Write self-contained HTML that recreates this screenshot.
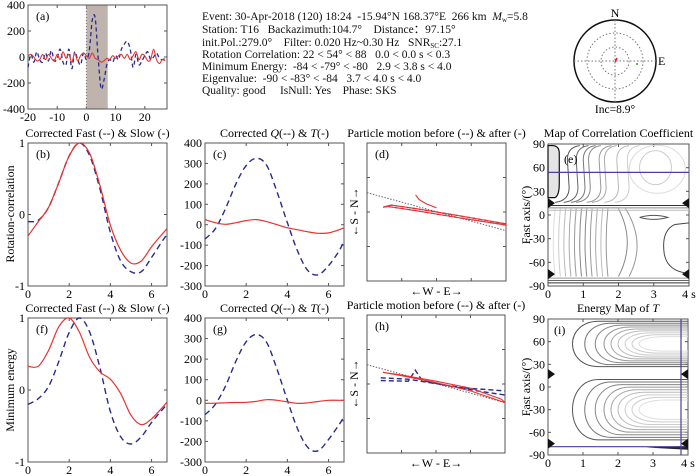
<!DOCTYPE html>
<html><head><meta charset="utf-8">
<style>
html,body{margin:0;padding:0;background:#fff;}
svg{display:block;font-family:"Liberation Serif",serif;}
#header-text text{white-space:pre;}
</style></head>
<body>
<svg id="chart" width="700" height="476" viewBox="0 0 700 476" xmlns="http://www.w3.org/2000/svg">
<g id="header-text" font-size="11.5" fill="#111" xml:space="preserve">
<text x="202" y="20">Event: 30-Apr-2018 (120) 18:24  -15.94°N 168.37°E  266 km  <tspan font-style="italic">M</tspan><tspan font-size="7" dy="2">w</tspan><tspan dy="-2">=5.8</tspan></text>
<text x="202" y="33">Station: T16   Backazimuth:104.7°    Distance：97.15°</text>
<text x="202" y="46">init.Pol.:279.0°    Filter: 0.020 Hz~0.30 Hz   SNR<tspan font-size="7" dy="2">SC</tspan><tspan dy="-2">:27.1</tspan></text>
<text x="202" y="58">Rotation Correlation: 22 &lt; 54° &lt; 88   0.0 &lt; 0.0 s &lt; 0.3</text>
<text x="202" y="70">Minimum Energy:  -84 &lt; -79° &lt; -80   2.9 &lt; 3.8 s &lt; 4.0</text>
<text x="202" y="82">Eigenvalue:  -90 &lt; -83° &lt; -84   3.7 &lt; 4.0 s &lt; 4.0</text>
<text x="202" y="94">Quality: good     IsNull: Yes    Phase: SKS</text>
</g>
<g>
<circle cx="615" cy="61" r="41" fill="none" stroke="#111" stroke-width="1.5"/>
<circle cx="615" cy="61" r="28" fill="none" stroke="#777" stroke-dasharray="1.5,2"/>
<circle cx="615" cy="61" r="14" fill="none" stroke="#777" stroke-dasharray="1.5,2"/>
<line x1="574" y1="61" x2="656" y2="61" stroke="#777" stroke-dasharray="1.5,2"/>
<line x1="615" y1="20" x2="615" y2="102" stroke="#777" stroke-dasharray="1.5,2"/>
<line x1="615" y1="62" x2="617" y2="58" stroke="#d22" stroke-width="1.5"/>
<circle cx="637" cy="64" r="1" fill="#393"/>
<text x="615" y="17" font-size="12" text-anchor="middle">N</text>
<text x="658" y="65" font-size="12">E</text>
<text x="615" y="113" font-size="11.5" text-anchor="middle">Inc=8.9°</text>
</g>
<g id="plots"></g>
</svg>
<script>
// ---------- data ----------
const aTime = [-20,-19,-18,-17,-16,-15,-14,-13,-12,-11,-10,-9,-8,-7,-6,-5,-4,-3,-2,-1,0,1,2,3,4,5,6,7,8,9,10,11,12,13,14,15,16,17,18,19,20,21,22,23,24,25,26,27];
const aFast = [-80,20,-40,40,-20,-40,30,-30,50,-30,-10,60,-40,-60,60,-90,40,-20,-60,30,-20,50,280,300,0,-240,-180,-60,-20,-40,10,-20,60,100,120,60,-80,20,-60,-30,10,40,-20,0,30,-10,-20,-10];
const aSlow = [10,20,0,-30,-20,20,-20,20,-10,-30,20,-20,40,-10,20,-40,30,-30,10,30,10,-10,30,-10,-20,-40,-30,-10,-20,10,-10,10,20,-10,20,-20,10,40,-20,20,10,-30,-20,60,-20,-50,-20,-30];
const aWindow = [0, 7.3];
const tCorr = [0,0.5,1,1.5,2,2.5,3,3.5,4,4.5,5,5.5,6,6.5,6.75];
const bFast = [-0.1,-0.08,0.1,0.45,0.82,1.0,0.82,0.35,-0.25,-0.65,-0.8,-0.8,-0.6,-0.38,-0.28];
const bSlow = [-0.3,-0.1,0.1,0.45,0.82,1.0,0.85,0.4,-0.15,-0.5,-0.68,-0.65,-0.45,-0.28,-0.2];
const cQ = [-70,-20,80,200,290,325,290,160,10,-130,-225,-245,-200,-130,-80];
const cT = [25,10,2,10,20,25,15,0,-15,-25,-35,-42,-40,-25,-15];
const fFast = [-0.2,-0.12,0.05,0.4,0.8,1.0,0.8,0.3,-0.3,-0.65,-0.75,-0.65,-0.45,-0.28,-0.2];
const fSlow = [0.33,0.33,0.55,0.88,1.0,0.8,0.45,0.25,0.15,-0.05,-0.35,-0.48,-0.4,-0.25,-0.17];
const gQ = [-70,-20,70,190,285,320,280,150,0,-140,-230,-245,-190,-120,-80];
const gT = [-15,-14,-12,-11,-10,-5,3,0,-8,-15,-12,-6,0,0,0];
const dAfterX = [-0.77,-0.7,-0.3,0.3,1,0.99,0.3,-0.3,-0.65,-0.77];
const dAfterY = [0.07,0.08,0.02,-0.08,-0.19,-0.17,-0.05,0.05,0.1,0.07];
const dHookX = [-0.3,-0.25,-0.15,0];
const dHookY = [0.25,0.18,0.12,0.06];
const hAfterX = [-0.77,-0.5,0,0.5,1,0.95,0.5,0,-0.5,-0.77];
const hAfterY = [0.17,0.12,0.02,-0.1,-0.27,-0.22,-0.06,0.04,0.13,0.17];
const hBeforeX = [-0.8,-0.4,-0.1,0.3,0.6,1];
const hBeforeY = [0.09,0.07,0.02,-0.04,-0.1,-0.16];
const hBefore2X = [-0.8,-0.4,-0.3,-0.2,0.3,1];
const hBefore2Y = [0.05,0.04,0.2,0.05,-0.05,-0.1];
const eBest = [54, 0.0];
const iBest = [-79, 3.8];
const eTri = [15,-75];
const iTri = [17,-75];

// ---------- helpers ----------
const NS='http://www.w3.org/2000/svg';
const root=document.getElementById('plots');
function mk(tag, attrs, parent){const e=document.createElementNS(NS,tag);for(const k in attrs)e.setAttribute(k,attrs[k]);(parent||root).appendChild(e);return e;}
function lin(d0,d1,p0,p1){return v=>p0+(v-d0)*(p1-p0)/(d1-d0);}
function pathD(xs,ys,sx,sy){return xs.map((x,i)=>(i?'L':'M')+sx(x).toFixed(1)+','+sy(ys[i]).toFixed(1)).join('');}
function smoothD(xs,ys,sx,sy){const P=xs.map((x,i)=>[sx(x),sy(ys[i])]);let d='M'+P[0][0]+','+P[0][1];for(let i=0;i<P.length-1;i++){const p0=P[i-1]||P[i],p1=P[i],p2=P[i+1],p3=P[i+2]||p2;d+='C'+(p1[0]+(p2[0]-p0[0])/6).toFixed(1)+','+(p1[1]+(p2[1]-p0[1])/6).toFixed(1)+' '+(p2[0]-(p3[0]-p1[0])/6).toFixed(1)+','+(p2[1]-(p3[1]-p1[1])/6).toFixed(1)+' '+p2[0].toFixed(1)+','+p2[1].toFixed(1);}return d;}
function frame(name,L,R,T,B,xt,yt,sx,sy,xlab,ylab){
  const g=mk('g',{});
  
  
  mk('rect',{x:L,y:T,width:R-L,height:B-T,fill:'none',stroke:'#555','stroke-width':1},g);
  xt.forEach((v,i)=>{const x=sx(v);mk('line',{x1:x,y1:B,x2:x,y2:B-3,stroke:'#555'},g);mk('line',{x1:x,y1:T,x2:x,y2:T+3,stroke:'#555'},g);
    if(xlab){const t=mk('text',{x:x,y:B+12,'font-size':12,'text-anchor':'middle'},g);t.textContent=xlab[i];}});
  yt.forEach((v,i)=>{const y=sy(v);mk('line',{x1:L,y1:y,x2:L+3,y2:y,stroke:'#555'},g);mk('line',{x1:R,y1:y,x2:R-3,y2:y,stroke:'#555'},g);
    if(ylab){const t=mk('text',{x:L-3,y:y+4,'font-size':12,'text-anchor':'end'},g);t.textContent=ylab[i];}});
  return g;
}
function txt(s,x,y,opts,name){const t=mk('text',Object.assign({x:x,y:y,'font-size':12},opts||{}));t.innerHTML=s;return t;}
function series(d,color,dash,w,name,g){const p=mk('path',{d:d,fill:'none',stroke:color,'stroke-width':w||1.2},g);if(dash)p.setAttribute('stroke-dasharray',dash);return p;}
const RED='#e8322e', BLUE='#2a2a8c';

// ---------- panel a ----------
(function(){
 const sx=lin(-20,27.6,28,167), sy=lin(-400,400,109,5);
 const g=frame('panel-a',28,167,5,109,[-20,-10,0,10,20],[-400,-200,0,200,400],sx,sy,['-20','-10','0','10','20'],['-400','-200','0','200','400']);
 const r=mk('rect',{x:sx(aWindow[0]),y:5.5,width:sx(aWindow[1])-sx(aWindow[0]),height:103,fill:'#bfb3ad'},g);
 
 
 mk('line',{x1:sx(0),y1:5,x2:sx(0),y2:109,stroke:'#777','stroke-dasharray':'1,2'},g);
 series(smoothD(aTime,aFast,sx,sy),BLUE,'4,3',1.3,'fast-trace-a',g);
 series(smoothD(aTime,aSlow,sx,sy),RED,null,1.1,'slow-trace-a',g);
 txt('(a)',36,20,{},'panel-label-a');
})();

// ---------- waveform panels ----------
function wave(name,L,R,T,B,ymin,ymax,yt,yl,xs,dashed,solid,title,label){
 const sx=lin(0,6.75,L,R), sy=lin(ymin,ymax,B,T);
 const g=frame(name,L,R,T,B,[0,2,4,6],yt,sx,sy,['0','2','4','6'],yl);
 series(smoothD(xs,dashed,sx,sy),BLUE,'6,4',1.4,name+'-dashed',g);
 series(smoothD(xs,solid,sx,sy),RED,null,1.2,name+'-solid',g);
 txt(title,(L+R)/2,T-6,{'text-anchor':'middle'},name+'-title');
 txt(label,L+8,T+15,{},name+'-label');
}
wave('panel-b',28,167,143,286,-1,1,[-1,0,1],['-1','0','1'],tCorr,bFast,bSlow,'Corrected Fast (--) &amp; Slow (-)','(b)');
wave('panel-c',205,344,143,286,-300,400,[-300,-200,-100,0,100,200,300,400],['-300','-200','-100','0','100','200','300','400'],tCorr,cQ,cT,'Corrected <tspan font-style="italic">Q</tspan>(--) &amp; <tspan font-style="italic">T</tspan>(-)','(c)');
wave('panel-f',28,167,318,462,-1,1,[-1,0,1],['-1','0','1'],tCorr,fFast,fSlow,'Corrected Fast (--) &amp; Slow (-)','(f)');
wave('panel-g',205,344,318,462,-300,400,[-300,-200,-100,0,100,200,300,400],['-300','-200','-100','0','100','200','300','400'],tCorr,gQ,gT,'Corrected <tspan font-style="italic">Q</tspan>(--) &amp; <tspan font-style="italic">T</tspan>(-)','(g)');
txt('Rotation-correlation',14,214,{transform:'rotate(-90 14 214)','text-anchor':'middle'},'y-axis-title-rotation');
txt('Minimum energy',14,390,{transform:'rotate(-90 14 390)','text-anchor':'middle'},'y-axis-title-energy');

// ---------- particle motion ----------
function pm(name,L,R,T,B,label,draw){
 const sx=lin(-1,1,L,R), sy=lin(-1,1,B,T);
 const g=frame(name,L,R,T,B,[-0.5,0,0.5],[-0.5,0,0.5],sx,sy,null,null);
 mk('line',{x1:L,y1:sy(0.28),x2:R,y2:sy(-0.27),stroke:'#666','stroke-dasharray':'1.5,1.5'},g);
 draw(g,sx,sy);
 txt('Particle motion before (--) &amp; after (-)',(L+R)/2,T-6,{'text-anchor':'middle'},name+'-title');
 txt(label,L+8,T+15,{},name+'-label');
 txt('←S - N→',L-9,(T+B)/2,{transform:'rotate(-90 '+(L-9)+' '+((T+B)/2)+')','text-anchor':'middle'},name+'-y-title');
 txt('←W - E→',(L+R)/2,B+14,{'text-anchor':'middle'},name+'-x-title');
}
pm('panel-d',367,506,143,281,'(d)',(g,sx,sy)=>{
 series(pathD(dAfterX,dAfterY,sx,sy),BLUE,'4,2',1.1,'pm-before-d',g);
 series(pathD(dAfterX,dAfterY,sx,sy),RED,null,1.1,'pm-after-d',g);
 series(pathD(dHookX,dHookY,sx,sy),RED,null,1.1,'pm-hook-d',g);
});
pm('panel-h',367,505,315,453,'(h)',(g,sx,sy)=>{
 series(pathD(hBeforeX,hBeforeY,sx,sy),BLUE,'5,3',1.4,'pm-before-h',g);
 series(pathD(hBefore2X,hBefore2Y,sx,sy),BLUE,'5,3',1.4,'pm-before2-h',g);
 series(pathD(hAfterX,hAfterY,sx,sy),RED,null,1.1,'pm-after-h',g);
});

// ---------- contour maps ----------
function triangles(g,L,R,y){
 mk('path',{d:`M${L},${y-5}L${L+7},${y}L${L},${y+5}Z`,fill:'#111'},g);
 mk('path',{d:`M${R},${y-5}L${R-7},${y}L${R},${y+5}Z`,fill:'#111'},g);
}
(function(){
 const L=548,R=689,T=144,B=286;
 const sx=lin(0,4,L,R), sy=lin(-90,90,B,T);
 const g=frame('panel-e',L,R,T,B,[0,1,2,3,4],[-90,-60,-30,0,30,60,90],sx,sy,['0','1','2','3','4 s'],['-90','-60','-30','0','30','60','90']);
 const c=mk('g',{},g);
 
 
 mk('path',{d:`M${sx(0)},${sy(22)}L${sx(0.2)},${sy(22)}Q${sx(0.32)},${sy(25)} ${sx(0.32)},${sy(40)}L${sx(0.32)},${sy(78)}Q${sx(0.32)},${sy(88)} ${sx(0.12)},${sy(88)}L${sx(0)},${sy(88)}Z`,fill:'#e4e4e4',stroke:'#111','stroke-width':1.2},c);
 [[0.6,'#555'],[0.85,'#666'],[1.05,'#777'],[1.2,'#888'],[1.5,'#999'],[1.65,'#aaa'],[2.0,'#bbb'],[2.3,'#ccc']].forEach(([x,col])=>{
   mk('path',{d:`M${sx(x-0.4)},${sy(16)}Q${sx(x)},${sy(18)} ${sx(x)},${sy(35)}L${sx(x-0.05)},${sy(70)}Q${sx(x-0.05)},${sy(86)} ${sx(x+0.3)},${sy(88)}`,fill:'none',stroke:col},c);});
 mk('ellipse',{cx:sx(3.05),cy:sy(60),rx:16,ry:17,fill:'none',stroke:'#ccc'},c);
 mk('ellipse',{cx:sx(3.1),cy:sy(58),rx:28,ry:24,fill:'none',stroke:'#ddd'},c);
 [0.2,0.35,0.5,0.65,0.8,0.95,1.1,1.25,1.4,1.55,1.7].forEach((x,i)=>{
   const col=['#ddd','#ccc','#bbb','#aaa','#999','#888','#888','#999','#aaa','#bbb','#999'][i];
   mk('path',{d:`M${sx(x)},${sy(8)}Q${sx(x-0.1)},${sy(-35)} ${sx(x)},${sy(-78)}`,fill:'none',stroke:col},c);});
 mk('path',{d:`M${sx(2.0)},${sy(8)}Q${sx(2.5)},${sy(-35)} ${sx(2.0)},${sy(-78)}`,fill:'none',stroke:'#888'},c);
 mk('path',{d:`M${sx(2.2)},${sy(8)}Q${sx(2.8)},${sy(-35)} ${sx(2.3)},${sy(-78)}`,fill:'none',stroke:'#999'},c);
 mk('path',{d:`M${sx(4)},${sy(-10)}L${sx(3.6)},${sy(-12)}Q${sx(3.2)},${sy(-20)} ${sx(3.3)},${sy(-50)}Q${sx(3.4)},${sy(-72)} ${sx(4)},${sy(-74)}`,fill:'none',stroke:'#444'},c);
 mk('path',{d:`M${sx(2.6)},${sy(-3)}Q${sx(3.0)},${sy(2)} ${sx(3.4)},${sy(-3)}Q${sx(3.0)},${sy(-8)} ${sx(2.6)},${sy(-3)}`,fill:'none',stroke:'#555'},c);
 [12,9,6,-80,-83,-86].forEach((y,i)=>mk('line',{x1:L,y1:sy(y),x2:R,y2:sy(y),stroke:['#333','#888','#bbb','#999','#666','#333'][i]},c));
 const bl=mk('line',{x1:L,y1:sy(eBest[0]),x2:R,y2:sy(eBest[0]),stroke:'#4a3f9a','stroke-width':1.2},g);
 
 
 eTri.forEach(y=>triangles(g,L,R,sy(y)));
 txt('(e)',L+16,T+19,{},'panel-e-label');
 txt('Map of Correlation Coefficient',(L+R)/2,T-7,{'text-anchor':'middle'},'panel-e-title');
 txt('Fast axis/(°)',530,(T+B)/2,{transform:'rotate(-90 530 '+((T+B)/2)+')','text-anchor':'middle'},'panel-e-y-title');
})();
(function(){
 const L=548,R=688,T=319,B=455;
 const sx=lin(0,4,L,R), sy=lin(-90,90,B,T);
 const g=frame('panel-i',L,R,T,B,[0,1,2,3,4],[-90,-60,-30,0,30,60,90],sx,sy,['0','1','2','3','4 s'],['-90','-60','-30','0','30','60','90']);
 const c=mk('g',{},g);
 
 
 const cols=['#555','#777','#888','#999','#aaa','#bbb','#ccc','#ccc','#ddd'];
 [[57,30],[-30,40]].forEach(([yc,h0])=>{
  [0.45,0.8,1.1,1.35,1.55,1.75,1.95,2.15,2.35].forEach((a,i)=>{
   const h=h0*(1-i*0.085);
   mk('path',{d:`M${R},${sy(yc+h)}L${sx(a+1.0)},${sy(yc+h)}C${sx(a)},${sy(yc+h)} ${sx(a)},${sy(yc-h)} ${sx(a+1.0)},${sy(yc-h)}L${R},${sy(yc-h)}`,fill:'none',stroke:cols[i]},c);});
 });
 mk('path',{d:`M${sx(2.8)},${sy(-80)}L${R},${sy(-78)}L${R},${sy(-83)}Z`,fill:'#222'},c);
 const v=mk('line',{x1:sx(iBest[1]),y1:T,x2:sx(iBest[1]),y2:B,stroke:'#4a3f9a','stroke-width':1.2},g);
 
 
 const h=mk('line',{x1:L,y1:sy(iBest[0]),x2:R,y2:sy(iBest[0]),stroke:'#4a3f9a','stroke-width':1.2},g);
 
 
 iTri.forEach(y=>triangles(g,L,R,sy(y)));
 txt('(i)',L+6,T+15,{},'panel-i-label');
 txt('Energy Map of <tspan font-style="italic">T</tspan>',(L+R)/2,T-7,{'text-anchor':'middle'},'panel-i-title');
 txt('Fast axis/(°)',530,(T+B)/2,{transform:'rotate(-90 530 '+((T+B)/2)+')','text-anchor':'middle'},'panel-i-y-title');
})();
</script>
</body></html>
